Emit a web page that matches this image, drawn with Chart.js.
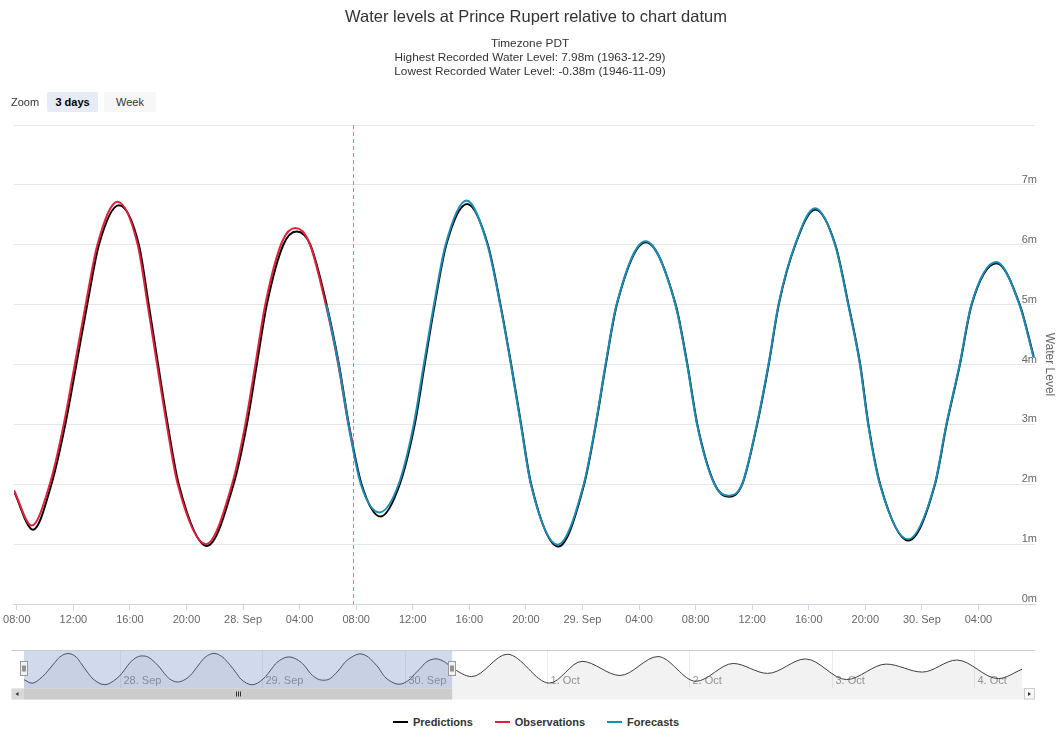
<!DOCTYPE html>
<html>
<head>
<meta charset="utf-8">
<script src="https://cdn.jsdelivr.net/npm/chart.js@4.4.0/dist/chart.umd.min.js"></script>
<style>
  body { margin: 0; background: #fff; font-family: "Liberation Sans", Arial, sans-serif; }
  #page { position: relative; width: 1059px; height: 729px; overflow: hidden; }
  .abs { position: absolute; }
  #title { top: 6px; left: 0; width: 1072px; text-align: center; font-size: 16.5px; line-height: 20px; color: #333; }
  #subtitle { top: 36px; left: 0; width: 1060px; text-align: center; font-size: 11.8px; line-height: 14px; color: #333; }
  #zoomLabel { left: 11px; top: 95px; font-size: 11px; line-height: 14px; color: #333; }
  .btn { top: 92px; height: 20px; line-height: 20px; font-size: 11px; text-align: center; color: #333; border-radius: 2px; }
  #legend { top: 714px; left: 0; width: 1072px; display: flex; justify-content: center; font-size: 11px; font-weight: bold; color: #333; line-height: 16px; }
  .item { display: flex; align-items: center; margin: 0 11px; }
  .sym { display: inline-block; width: 15px; height: 2px; margin-right: 5px; }
  #mainBox { left: 0; top: 0; width: 1059px; height: 640px; }
  #navBox { left: 0; top: 640px; width: 1059px; height: 70px; }
</style>
</head>
<body>
<div id="page">
  <div id="mainBox" class="abs"><canvas id="tideChart"></canvas></div>
  <div id="navBox" class="abs"><canvas id="navChart"></canvas></div>
  <div id="title" class="abs">Water levels at Prince Rupert relative to chart datum</div>
  <div id="subtitle" class="abs">Timezone PDT<br>Highest Recorded Water Level: 7.98m (1963-12-29)<br>Lowest Recorded Water Level: -0.38m (1946-11-09)</div>
  <div id="zoomLabel" class="abs">Zoom</div>
  <div class="abs btn" style="left:47px;width:51px;background:#e6ebf5;font-weight:bold;color:#000;">3 days</div>
  <div class="abs btn" style="left:104px;width:52px;background:#f7f7f7;">Week</div>
  <div id="legend" class="abs">
    <div class="item"><span class="sym" style="background:#000"></span>Predictions</div>
    <div class="item"><span class="sym" style="background:#e0213d"></span>Observations</div>
    <div class="item"><span class="sym" style="background:#1b8db3"></span>Forecasts</div>
  </div>
</div>
<script>
// hours counted from 27 Sep 00:00 PDT, levels in metres
const predHours = [7.8, 9.15, 10.45, 11.43, 12.21, 12.98, 13.81, 15.22, 16.63, 17.33, 17.99, 18.67, 19.45, 21.45,
  23.33, 24.27, 24.97, 25.68, 26.85, 27.79, 28.75, 29.91, 30.78, 31.48, 32.38, 33.72, 35.08, 36.14, 36.84, 37.55, 38.37, 39.85,
  41.31, 42.2, 42.96, 43.66, 44.37, 46.29, 48.12, 48.95, 49.65, 50.43, 52.48, 54.59, 55.42, 56.12, 57.35, 58.35,
  59.3, 60.35, 61.17, 61.88, 63.05, 64.46, 65.88, 66.81, 67.64, 68.22, 69.05, 71.04, 72.93, 73.75, 74.69, 75.52,
  77.28, 78.92, 79.91];
const predLevels = [1.88, 1.24, 2, 3, 4, 5, 6, 6.66, 6, 5, 4, 3, 2, 0.97,
  2, 3, 4, 5, 6, 6.22, 6, 5, 4, 3, 2, 1.46, 2, 3, 4, 5, 6, 6.68,
  6, 5, 4, 3, 2, 0.96, 2, 3, 4, 5, 6.04, 5, 4, 3, 2, 1.79,
  2, 3, 4, 5, 6, 6.59, 6, 5, 4, 3, 2, 1.06, 2, 3, 4, 5,
  5.69, 5, 4.13];

const obsHours = [7.8, 9.05, 10.33, 11.32, 12.1, 12.87, 13.7, 15.12, 16.55, 17.25, 17.92, 18.6, 19.38, 21.38,
  23.22, 24.16, 24.87, 25.57, 26.76, 27.7, 28.66, 29.85, 30.73, 31.45, 31.79];
const obsLevels = [1.9, 1.31, 2, 3, 4, 5, 6, 6.72, 6, 5, 4, 3, 2, 1.0,
  2, 3, 4, 5, 6.05, 6.28, 6.05, 5, 4, 3, 2.62];

const fcHours = [29.9, 30.75, 31.45, 32.33, 33.65, 35.0, 36.07, 36.78, 37.5, 38.32, 39.8, 41.28, 42.18, 42.94,
  43.64, 44.35, 46.25, 48.09, 48.93, 49.63, 50.41, 52.46, 54.57, 55.4, 56.1, 57.33, 58.33, 59.28, 60.33, 61.15,
  61.86, 63.03, 64.44, 65.86, 66.79, 67.62, 68.2, 69.03, 71.02, 72.91, 73.73, 74.67, 75.5, 77.26, 78.9, 79.9];
const fcLevels = [5, 4, 3, 2, 1.53, 2, 3, 4, 5, 6, 6.74, 6, 5, 4,
  3, 2, 0.99, 2, 3, 4, 5, 6.06, 5, 4, 3, 2, 1.81, 2, 3, 4,
  5, 6, 6.61, 6, 5, 4, 3, 2, 1.08, 2, 3, 4, 5, 5.71, 5, 4.12];

// predictions beyond the zoomed window, read from the navigator strip
const navHours = [83.3, 89.3, 96.4, 101.9, 108.3, 114.7, 121.1, 127.4, 133.2, 139.6, 146.5, 153.2, 159.3, 165.1, 172.1, 176.1];
const navLevels = [2.45, 6.53, 1.26, 5.23, 2.65, 6.1, 1.59, 4.84, 3.03, 5.67, 1.9, 4.73, 3.27, 5.47, 2.08, 3.78];

const tickHours = [8, 12, 16, 20, 24, 28, 32, 36, 40, 44, 48, 52, 56, 60, 64, 68, 72, 76];
const tickLabels = ['08:00', '12:00', '16:00', '20:00', '28. Sep', '04:00', '08:00', '12:00', '16:00', '20:00',
  '29. Sep', '04:00', '08:00', '12:00', '16:00', '20:00', '30. Sep', '04:00'];
const navTickHours = [24, 48, 72, 96, 120, 144, 168];
const navTickLabels = ['28. Sep', '29. Sep', '30. Sep', '1. Oct', '2. Oct', '3. Oct', '4. Oct'];

const viewMin = 7.8;
const viewMax = 80;
const nowHour = 31.79;

Chart.defaults.font.family = '"Liberation Sans", Arial, sans-serif';

function toPoints(hours, levels) {
    return hours.map(function (h, i) { return { x: h, y: levels[i] }; });
}

function lineSet(label, hours, levels, color, order) {
    return {
        label: label,
        data: toPoints(hours, levels),
        borderColor: color,
        backgroundColor: color,
        borderWidth: 2,
        borderJoinStyle: 'round',
        pointRadius: 0,
        cubicInterpolationMode: 'monotone',
        order: order
    };
}

// dashed line marking the current time
const nowLine = {
    id: 'nowLine',
    beforeDatasetsDraw(chart) {
        const x = chart.scales.x.getPixelForValue(nowHour);
        const area = chart.chartArea;
        const c = chart.ctx;
        c.save();
        c.strokeStyle = '#4fb0e8';
        c.lineWidth = 1;
        c.setLineDash([4, 3]);
        c.beginPath();
        c.moveTo(Math.round(x) + 0.5, area.top);
        c.lineTo(Math.round(x) + 0.5, area.bottom);
        c.stroke();
        c.restore();
    }
};

new Chart(document.getElementById('tideChart'), {
    type: 'line',
    data: {
        datasets: [
            lineSet('Predictions', predHours, predLevels, '#000000', 3),
            lineSet('Observations', obsHours, obsLevels, '#e0213d', 2),
            lineSet('Forecasts', fcHours, fcLevels, '#1b8db3', 1)
        ]
    },
    options: {
        responsive: true,
        maintainAspectRatio: false,
        animation: false,
        events: [],
        layout: { padding: { top: 125, left: 11.5, right: 1.6, bottom: 10.8 } },
        plugins: {
            legend: { display: false },
            tooltip: { enabled: false }
        },
        scales: {
            x: {
                type: 'linear',
                min: viewMin,
                max: viewMax,
                afterBuildTicks: function (axis) {
                    axis.ticks = tickHours.map(function (h) { return { value: h }; });
                },
                ticks: {
                    autoSkip: false,
                    maxRotation: 0,
                    color: '#666',
                    font: { size: 11 },
                    padding: 3,
                    callback: function (v, i) { return tickLabels[i]; }
                },
                grid: { drawOnChartArea: false, drawTicks: true, tickLength: 6, color: '#ccd6eb' },
                border: { display: true, color: '#ccd6eb' }
            },
            y: {
                position: 'right',
                min: 0,
                max: 8,
                ticks: {
                    stepSize: 1,
                    mirror: true,
                    padding: 2,
                    labelOffset: -5,
                    color: '#666',
                    font: { size: 11 },
                    callback: function (v) { return v === 8 ? '' : v + 'm'; }
                },
                grid: { color: '#e6e6e6', drawTicks: false },
                border: { display: false },
                title: { display: true, text: 'Water Level', color: '#666', font: { size: 12 }, padding: { top: 1, bottom: 3 } }
            }
        }
    },
    plugins: [nowLine]
});

// navigator strip: labels, selection mask, handles and scrollbar
const navDecor = {
    id: 'navDecor',
    beforeDatasetsDraw(chart) {
        const sx = chart.scales.x;
        const area = chart.chartArea;
        const c = chart.ctx;
        c.save();
        c.font = '11px "Liberation Sans", Arial, sans-serif';
        c.fillStyle = '#999';
        c.textAlign = 'left';
        c.textBaseline = 'middle';
        navTickHours.forEach(function (h, i) {
            const x = Math.round(sx.getPixelForValue(h)) + 0.5;
            c.strokeStyle = '#ececec';
            c.lineWidth = 1;
            c.beginPath();
            c.moveTo(x, area.top);
            c.lineTo(x, area.bottom);
            c.stroke();
            c.fillText(navTickLabels[i], x + 3, area.bottom - 9);
        });
        c.restore();
    },
    afterDatasetsDraw(chart) {
        const sx = chart.scales.x;
        const area = chart.chartArea;
        const c = chart.ctx;
        const x1 = sx.getPixelForValue(viewMin);
        const x2 = sx.getPixelForValue(viewMax);
        const left = 11.5, right = 1035;
        c.save();
        // selected range
        c.fillStyle = 'rgba(102,133,194,0.3)';
        c.fillRect(x1, area.top, x2 - x1, area.bottom - area.top);
        // outline
        c.strokeStyle = '#cccccc';
        c.lineWidth = 1;
        c.beginPath();
        c.moveTo(left, area.top + 0.5);
        c.lineTo(right, area.top + 0.5);
        c.stroke();
        // handles
        [x1, x2].forEach(function (x) {
            const hx = Math.round(x) - 3.5;
            const hy = Math.round(area.top + 11) + 0.5;
            c.fillStyle = '#f2f2f2';
            c.strokeStyle = '#999999';
            c.fillRect(hx, hy, 7, 14);
            c.strokeRect(hx, hy, 7, 14);
            c.strokeStyle = '#333';
            c.beginPath();
            c.moveTo(hx + 2.5, hy + 4); c.lineTo(hx + 2.5, hy + 10);
            c.moveTo(hx + 4.5, hy + 4); c.lineTo(hx + 4.5, hy + 10);
            c.stroke();
        });
        // scrollbar
        const sy = area.bottom - 1.5;
        const sh = 11;
        c.fillStyle = '#f2f2f2';
        c.fillRect(left, sy, right - left, sh);
        c.fillStyle = '#cccccc';
        c.fillRect(x1, sy, x2 - x1, sh);
        c.fillStyle = '#d9d9d9';
        c.fillRect(left, sy, 12.5, sh);
        c.fillStyle = '#f7f7f7';
        c.fillRect(right - 11, sy, 11, sh);
        c.strokeStyle = '#cccccc';
        c.strokeRect(right - 11 + 0.5, sy, 10, sh - 0.5);
        // grip
        const gx = Math.round((x1 + x2) / 2) + 0.5;
        c.strokeStyle = '#333';
        c.beginPath();
        [-2, 0, 2].forEach(function (d) {
            c.moveTo(gx + d, sy + 3); c.lineTo(gx + d, sy + 8);
        });
        c.stroke();
        // arrows
        c.fillStyle = '#333';
        c.beginPath();
        c.moveTo(left + 4, sy + 5.5); c.lineTo(left + 7, sy + 3.5); c.lineTo(left + 7, sy + 7.5);
        c.closePath();
        c.fill();
        c.beginPath();
        c.moveTo(right - 4, sy + 5.5); c.lineTo(right - 7, sy + 3.5); c.lineTo(right - 7, sy + 7.5);
        c.closePath();
        c.fill();
        c.restore();
    }
};

new Chart(document.getElementById('navChart'), {
    type: 'line',
    data: {
        datasets: [{
            label: 'Predictions',
            data: toPoints(predHours.concat(navHours), predLevels.concat(navLevels)),
            borderColor: '#3d3d3d',
            borderWidth: 1,
            backgroundColor: 'rgba(0,0,0,0.05)',
            fill: 'origin',
            pointRadius: 0,
            cubicInterpolationMode: 'monotone'
        }]
    },
    options: {
        responsive: true,
        maintainAspectRatio: false,
        animation: false,
        events: [],
        layout: { padding: { top: 10, left: 24, right: 37, bottom: 20 } },
        plugins: { legend: { display: false }, tooltip: { enabled: false } },
        scales: {
            x: { type: 'linear', display: false, min: viewMin, max: 176.1 },
            y: { display: false, min: 0, max: 7.3 }
        }
    },
    plugins: [navDecor]
});
</script>
</body>
</html>
